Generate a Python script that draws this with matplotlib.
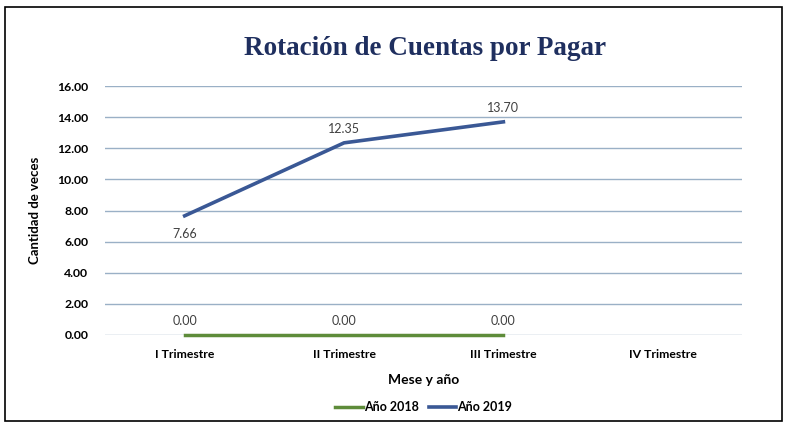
import matplotlib.pyplot as plt

categories = ['I Trimestre', 'II Trimestre', 'III Trimestre', 'IV Trimestre']
serie_2018 = [0.00, 0.00, 0.00]
serie_2019 = [7.66, 12.35, 13.70]
yticks = [0, 2, 4, 6, 8, 10, 12, 14, 16]

plt.rcParams['font.family'] = ['Lato', 'DejaVu Sans']

fig = plt.figure(figsize=(7.87, 4.24), dpi=100)
fig.patches.append(plt.Rectangle((0.006, 0.008), 0.988, 0.975, transform=fig.transFigure,
                                 fill=False, edgecolor='black', linewidth=1.2))
ax = fig.add_axes([0.1334, 0.21, 0.81, 0.587])

x = list(range(len(categories)))
ax.plot(x[:3], serie_2018, color='#5E8C3A', linewidth=2.5, label='Año 2018', zorder=3,
        clip_on=False)
ax.plot(x[:3], serie_2019, color='#3A5895', linewidth=2.6, label='Año 2019', zorder=4,
        clip_on=False)

for i, v in enumerate(serie_2018):
    ax.annotate('%.2f' % v, (x[i], v), xytext=(0, 6), textcoords='offset points',
                ha='center', va='bottom', fontsize=9, color='#404040')
for i, v in enumerate(serie_2019):
    off = -9 if i == 0 else 6
    ax.annotate('%.2f' % v, (x[i], v), xytext=(0, off), textcoords='offset points',
                ha='center', va='top' if off < 0 else 'bottom', fontsize=9, color='#404040')

ax.set_xlim(-0.5, 3.5)
ax.set_ylim(0, 16)
ax.set_yticks(yticks)
ax.set_yticklabels(['%.2f' % t for t in yticks], fontsize=8.8, fontweight='bold')
ax.set_xticks(x)
ax.set_xticklabels(categories, fontsize=8.8, fontweight='bold')
ax.grid(axis='y', color='#9AB0C6', linewidth=1)
ax.set_axisbelow(True)
for s in ax.spines.values():
    s.set_visible(False)
ax.tick_params(length=0, pad=12)
ax.tick_params(axis='x', pad=10)

ax.set_ylabel('Cantidad de veces', fontsize=9.5, fontweight='bold', labelpad=12)
ax.set_xlabel('Mese y año', fontsize=10, fontweight='bold', labelpad=10)
fig.suptitle('Rotación de Cuentas por Pagar', x=0.54, y=0.915, fontsize=19.5,
             fontweight='bold', color='#1F2F5F', family='Liberation Serif')

ax.legend(loc='upper center', bbox_to_anchor=(0.5, -0.22), ncol=2, frameon=False,
          handlelength=2.2, handletextpad=0.1, columnspacing=0.8,
          prop={'weight': 'bold', 'size': 9})

fig.savefig('out.png', dpi=100)
